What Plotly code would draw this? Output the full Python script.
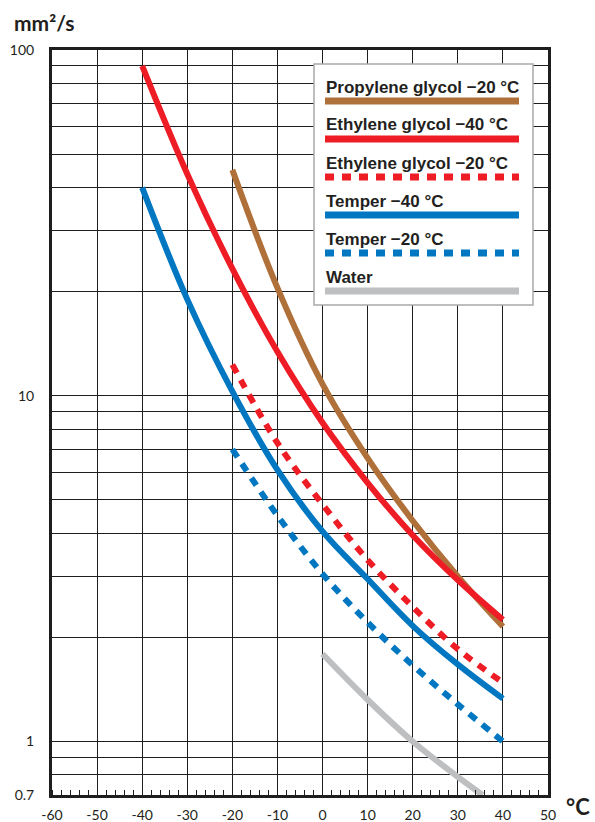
import plotly.graph_objects as go

# ---------------- data ----------------
x_eg40 = [-40, -30, -20, -10, 0, 10, 20, 30, 40]
y_eg40 = [90, 43.8, 23.3, 13.4, 8.35, 5.6, 3.95, 2.93, 2.25]

x_pg20 = [-20, -10, 0, 10, 20, 30, 40]
y_pg20 = [45, 20.5, 10.8, 6.6, 4.35, 3.0, 2.15]

x_eg20 = [-20, -10, 0, 10, 20, 30, 40]
y_eg20 = [12.3, 7.3, 4.85, 3.35, 2.45, 1.85, 1.48]

x_t40 = [-40, -30, -20, -10, 0, 10, 20, 30, 40]
y_t40 = [40, 19, 10.3, 6.1, 4.05, 2.95, 2.16, 1.67, 1.33]

x_t20 = [-20, -10, 0, 10, 20, 30, 40]
y_t20 = [7.0, 4.5, 3.05, 2.21, 1.66, 1.28, 1.0]

x_water = [0, 10, 20, 30, 35.5]
y_water = [1.79, 1.32, 1.0, 0.79, 0.70]

series_names = ["Propylene glycol \u221220 \u00b0C", "Ethylene glycol \u221240 \u00b0C",
                "Ethylene glycol \u221220 \u00b0C", "Temper \u221240 \u00b0C",
                "Temper \u221220 \u00b0C", "Water"]

x_tickvals = [-60, -50, -40, -30, -20, -10, 0, 10, 20, 30, 40, 50]
x_ticktext = ["-60", "-50", "-40", "-30", "-20", "-10", "0", "10", "20", "30", "40", "50"]

y_tickvals = [0.7, 0.8, 0.9, 1, 2, 3, 4, 5, 6, 7, 8, 9, 10,
              20, 30, 40, 50, 60, 70, 80, 90, 100]
y_labelled = {0.7: "0.7", 1: "1", 10: "10", 100: "100"}
y_ticktext = [y_labelled.get(v, "") for v in y_tickvals]

# ---------------- styles ----------------
BROWN = "#B0703A"
RED = "#EE1C25"
BLUE = "#0077C0"
GRAY = "#BEBFC1"
DASH = "9px,8px"
LW = 6

styles = [
    (x_pg20, y_pg20, BROWN, "solid"),
    (x_eg40, y_eg40, RED, "solid"),
    (x_eg20, y_eg20, RED, DASH),
    (x_t40, y_t40, BLUE, "solid"),
    (x_t20, y_t20, BLUE, DASH),
    (x_water, y_water, GRAY, "solid"),
]

fig = go.Figure()
for (xs, ys, col, dash), name in zip(styles, series_names):
    fig.add_trace(go.Scatter(x=xs, y=ys, mode="lines", name=name,
                             line=dict(color=col, width=LW, dash=dash,
                                       shape="spline", smoothing=1.0),
                             showlegend=False, hoverinfo="skip"))

# layout geometry (pixels)
FW, FH = 595, 822
L, T, R, B = 52, 50, 47, 27
PW, PH = FW - L - R, FH - T - B

def pxx(x):
    return (x - L) / PW

def pxy(y):
    return (T + PH - y) / PH

GRID = "#1e1e1e"
AXIS = "#1e1e1e"
TICKFONT = dict(family="Lato", size=14, color="#231F20")

fig.update_xaxes(range=[-60, 50], tickvals=x_tickvals, ticktext=x_ticktext,
                 showgrid=True, gridcolor=GRID, gridwidth=1,
                 showline=True, linewidth=3, linecolor=AXIS, mirror=True,
                 ticks="", tickfont=TICKFONT, ticklabelstandoff=5,
                 automargin=False,
                 minor=dict(dtick=2, ticks="inside", ticklen=5,
                            tickcolor=AXIS, tickwidth=1, showgrid=False),
                 zeroline=False)
fig.update_yaxes(type="log", range=[-0.15490196, 2], tickvals=y_tickvals,
                 ticktext=y_ticktext, showgrid=True, gridcolor=GRID, gridwidth=1,
                 showline=True, linewidth=3, linecolor=AXIS, mirror=True,
                 ticks="", tickfont=TICKFONT, ticklabelstandoff=12,
                 automargin=False, zeroline=False)

# custom legend box
shapes = [dict(type="rect", xref="paper", yref="paper",
               x0=pxx(314), x1=pxx(533), y0=pxy(305), y1=pxy(64),
               line=dict(color="#A9A9AC", width=1.5), fillcolor="white",
               layer="above")]
annotations = []
leg_cols = [BROWN, RED, RED, BLUE, BLUE, GRAY]
leg_dash = ["solid", "solid", DASH, "solid", DASH, "solid"]
for i, name in enumerate(series_names):
    ty = 87 + 38 * i
    ly = 101 + 38 * i
    annotations.append(dict(xref="paper", yref="paper", x=pxx(324), y=pxy(ty),
                            text=name, showarrow=False, xanchor="left",
                            yanchor="middle",
                            font=dict(family="Liberation Sans", size=17,
                                      color="#231F20", weight="bold")))
    shapes.append(dict(type="line", xref="paper", yref="paper",
                       x0=pxx(325), x1=pxx(519), y0=pxy(ly), y1=pxy(ly),
                       line=dict(color=leg_cols[i], width=7, dash=leg_dash[i]),
                       layer="above"))

# axis unit labels
annotations.append(dict(xref="paper", yref="paper", x=pxx(12), y=pxy(23),
                        text="mm\u00b2/s", showarrow=False, xanchor="left",
                        yanchor="middle",
                        font=dict(family="Lato", size=21, color="#231F20",
                                  weight="bold")))
annotations.append(dict(xref="paper", yref="paper", x=pxx(578), y=pxy(821),
                        text="\u00b0C", showarrow=False, xanchor="center",
                        yanchor="bottom", borderpad=0,
                        font=dict(family="Lato", size=22, color="#231F20",
                                  weight="bold")))

fig.update_layout(width=FW, height=FH, margin=dict(l=L, r=R, t=T, b=B),
                  paper_bgcolor="white", plot_bgcolor="white",
                  shapes=shapes, annotations=annotations, showlegend=False)

fig.write_html("out.html", config={"displayModeBar": False},
               post_script="document.body.style.margin='0px';"
                           "document.body.style.padding='0px';")
